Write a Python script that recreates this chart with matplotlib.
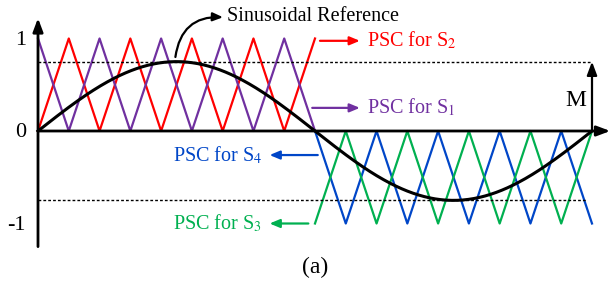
import numpy as np
import matplotlib.pyplot as plt

plt.rcParams['font.family'] = ['Liberation Serif', 'DejaVu Serif']
plt.rcParams['mathtext.fontset'] = 'stix'

# modulation index and carrier/fundamental ratio
M = 0.75
carrier_ratio = 9

# carrier vertex levels (one per half carrier period) over each half cycle
s2_levels = [0, 1, 0, 1, 0, 1, 0, 1, 0, 1]
s1_levels = [1, 0, 1, 0, 1, 0, 1, 0, 1, 0]
s4_levels = [0, -1, 0, -1, 0, -1, 0, -1, 0, -1]
s3_levels = [-1, 0, -1, 0, -1, 0, -1, 0, -1, 0]

y_ticks = [1, 0, -1]
y_tick_labels = ['1', '0', '-1']

colors = {'S1': '#7030A0', 'S2': '#FF0000', 'S3': '#00B050', 'S4': '#0046C8'}

fig = plt.figure(figsize=(6.11, 2.89), dpi=100)
ax = fig.add_axes([0, 0, 1, 1])
# map data so that t=0 -> px 38, t=1 -> px 592, y=0 -> px 131, y=1 -> px 39
sx = 554.0
sy = 92.5
ax.set_xlim(-38 / sx, (611 - 38) / sx)
ax.set_ylim((131 - 289) / sy, 131 / sy)
ax.axis('off')

half_step = 1.0 / (2 * carrier_ratio)
t_pos = np.arange(len(s2_levels)) * half_step
t_neg = 0.5 + np.arange(len(s4_levels)) * half_step

ax.plot(t_pos, s2_levels, color=colors['S2'], lw=1.6)
ax.plot(t_pos, s1_levels, color=colors['S1'], lw=1.6)
ax.plot(t_neg, s4_levels, color=colors['S4'], lw=1.6)
ax.plot(t_neg, s3_levels, color=colors['S3'], lw=1.6)

t = np.linspace(0, 1, 400)
ax.plot(t, M * np.sin(2 * np.pi * t), color='black', lw=2.2)

# dashed M levels
ax.plot([0, 1], [M, M], color='black', lw=1.0, ls=(0, (2, 1.5)))
ax.plot([0, 0.99], [-M, -M], color='black', lw=1.0, ls=(0, (2, 1.5)))

# axes with arrows
arrow = dict(arrowstyle='-|>,head_length=0.8,head_width=0.3', color='black', lw=2.0,
             shrinkA=0, shrinkB=0)
ax.annotate('', xy=(0, 1.22), xytext=(0, -1.25), arrowprops=arrow)
ax.annotate('', xy=(1.033, 0), xytext=(0, 0), arrowprops=arrow)
ax.annotate('', xy=(1, M), xytext=(1, 0),
            arrowprops=dict(arrowstyle='-|>,head_length=0.8,head_width=0.3',
                            color='black', lw=1.6, shrinkA=0, shrinkB=0))
ax.text(0.989, 0.33, 'M', ha='right', va='center', fontsize=17)

for yv, lab in zip(y_ticks, y_tick_labels):
    ax.text(-0.022, yv - 0.02, lab, ha='right', va='center', fontsize=16)

# PSC labels
small_arrow = dict(arrowstyle='-|>,head_length=0.6,head_width=0.25', lw=1.6,
                   shrinkA=0, shrinkB=0)
ax.annotate('', xy=(0.581, 0.975), xytext=(0.509, 0.975),
            arrowprops=dict(small_arrow, color=colors['S2']))
ax.text(0.594, 0.975, 'PSC for S$_2$', color=colors['S2'], ha='left', va='center', fontsize=14.5)
ax.annotate('', xy=(0.581, 0.25), xytext=(0.495, 0.25),
            arrowprops=dict(small_arrow, color=colors['S1']))
ax.text(0.594, 0.25, 'PSC for S$_1$', color=colors['S1'], ha='left', va='center', fontsize=14.5)
ax.annotate('', xy=(0.418, -0.26), xytext=(0.505, -0.26),
            arrowprops=dict(small_arrow, color=colors['S4']))
ax.text(0.405, -0.26, 'PSC for S$_4$', color=colors['S4'], ha='right', va='center', fontsize=14.5)
ax.annotate('', xy=(0.418, -1.0), xytext=(0.488, -1.0),
            arrowprops=dict(small_arrow, color=colors['S3']))
ax.text(0.405, -1.0, 'PSC for S$_3$', color=colors['S3'], ha='right', va='center', fontsize=14.5)

# sinusoidal reference label with curved arrow
ax.annotate('', xy=(0.334, 1.23), xytext=(0.248, 0.8),
            arrowprops=dict(arrowstyle='-|>,head_length=0.6,head_width=0.25', color='black',
                            lw=1.6, shrinkA=0, shrinkB=0, connectionstyle='arc3,rad=-0.45'))
ax.text(0.342, 1.24, 'Sinusoidal Reference', ha='left', va='center', fontsize=14.5)

ax.text(0.5, -1.48, '(a)', ha='center', va='center', fontsize=17)

fig.savefig('out.png', dpi=100)
